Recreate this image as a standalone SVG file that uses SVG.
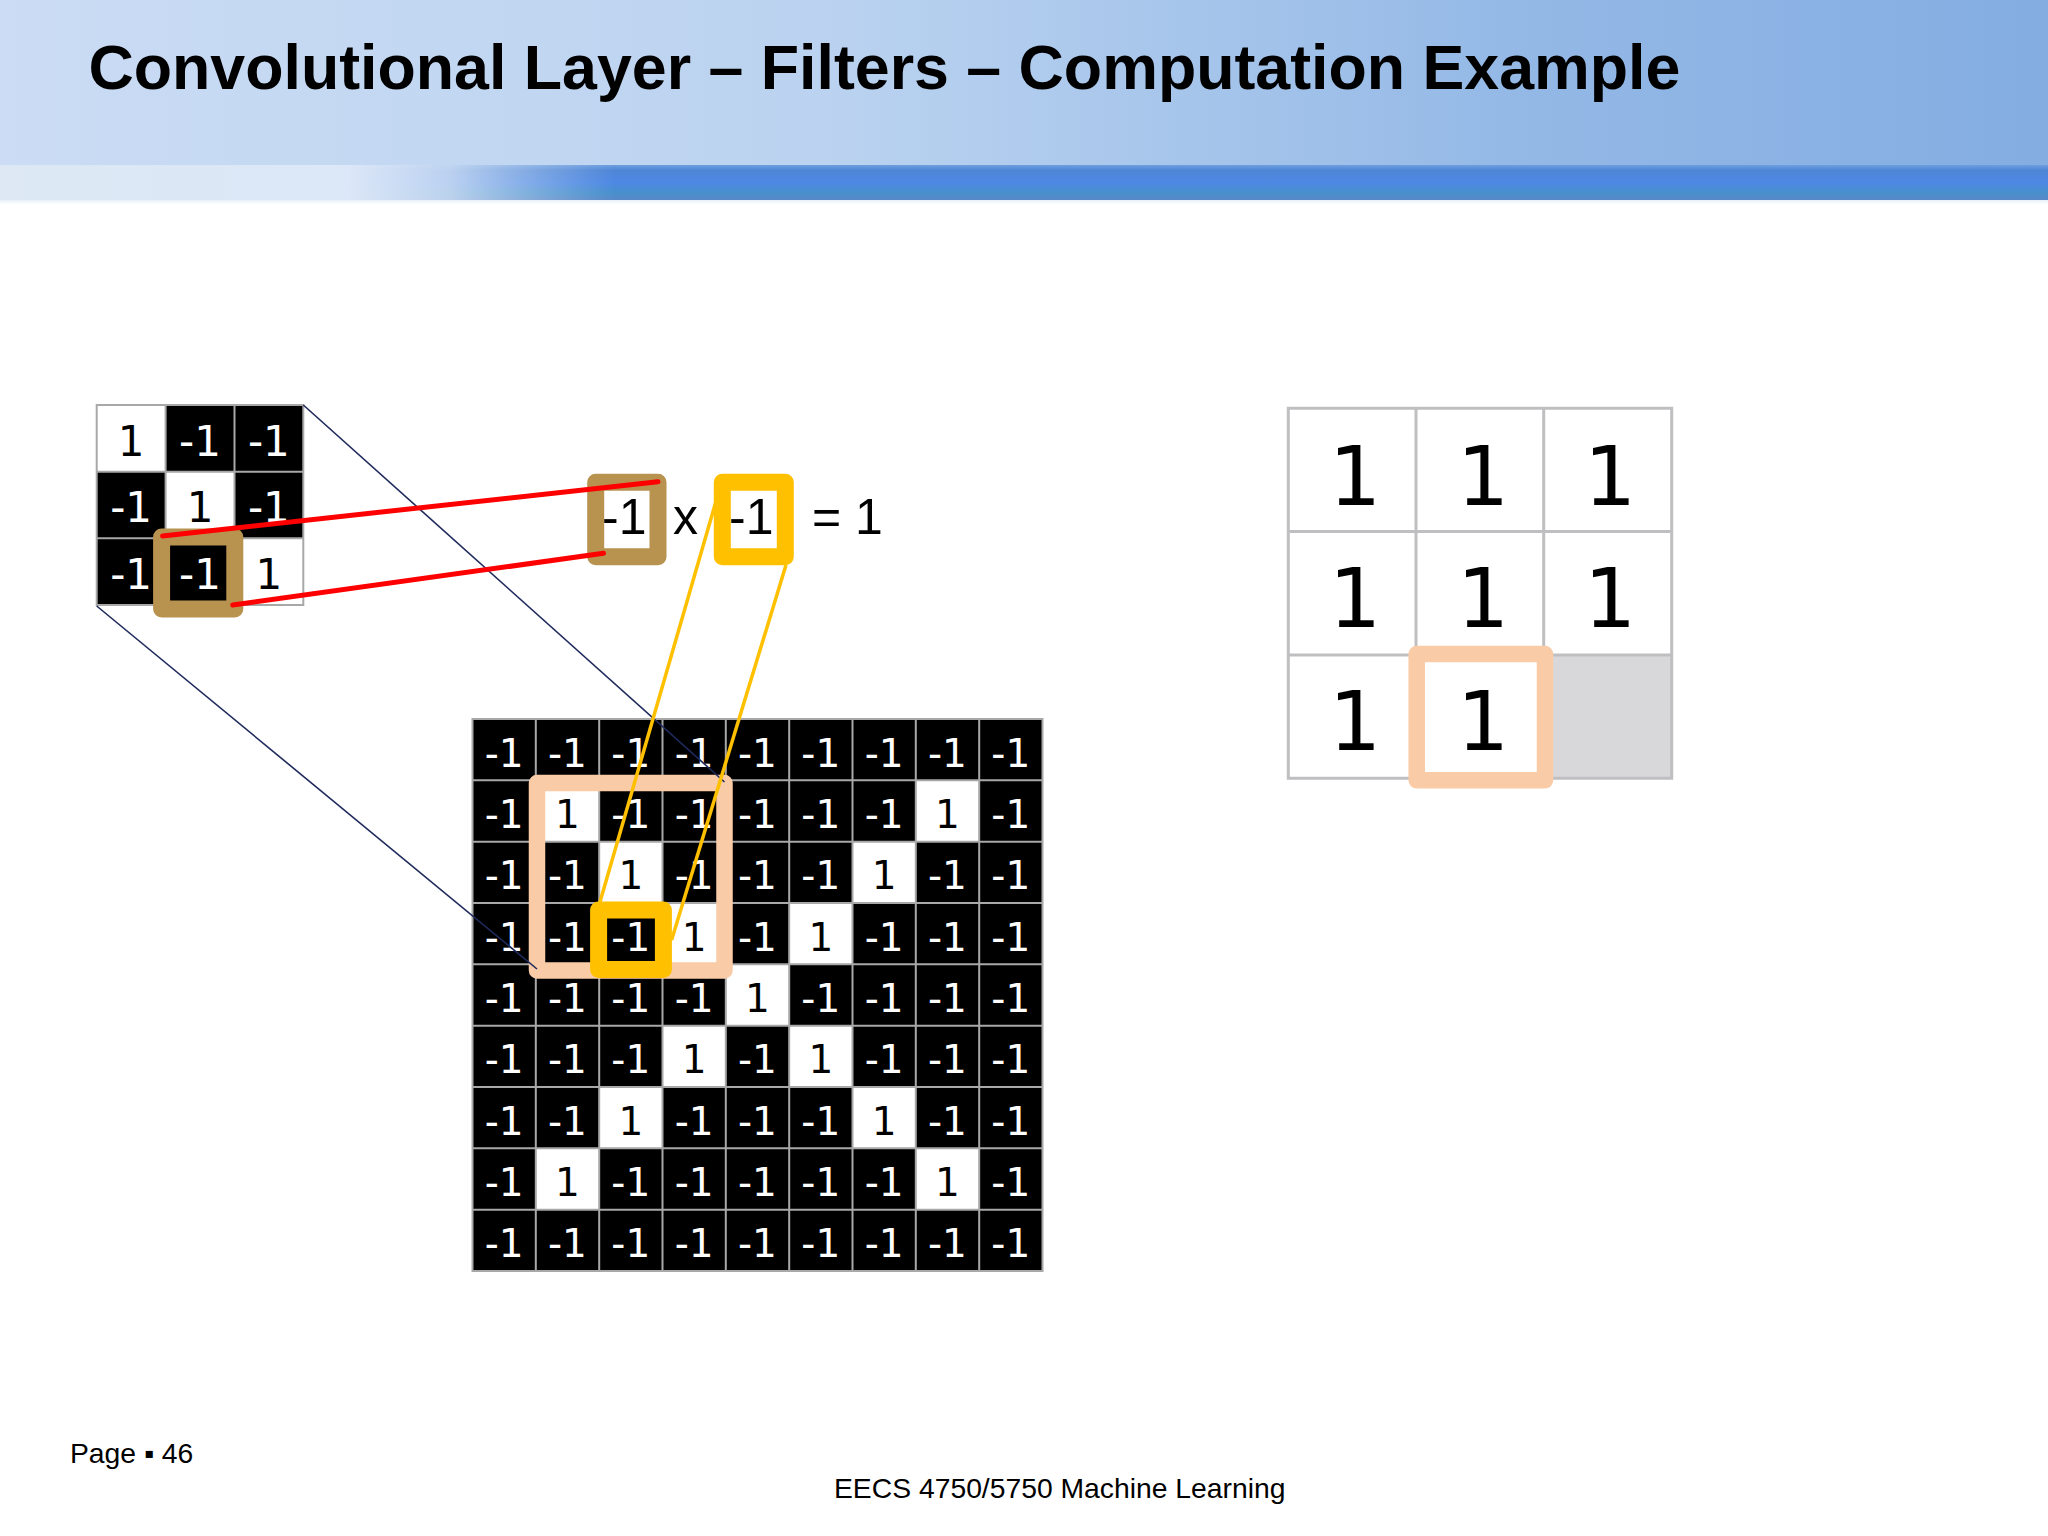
<svg xmlns="http://www.w3.org/2000/svg" width="2048" height="1536" viewBox="0 0 2048 1536">
<defs>
<linearGradient id="hdr" x1="0" y1="0" x2="1" y2="0">
<stop offset="0" stop-color="#CBDCF4"/>
<stop offset="0.4" stop-color="#BBD3F0"/>
<stop offset="0.75" stop-color="#93B8E6"/>
<stop offset="1" stop-color="#84ADE2"/>
</linearGradient>
<linearGradient id="band" x1="0" y1="0" x2="0" y2="1">
<stop offset="0" stop-color="#6E9FDF"/>
<stop offset="0.15" stop-color="#4F86D6"/>
<stop offset="0.5" stop-color="#4E88E4"/>
<stop offset="0.8" stop-color="#4790CC"/>
<stop offset="1" stop-color="#5A88C8"/>
</linearGradient>
<linearGradient id="bandfade" x1="0" y1="0" x2="1" y2="0">
<stop offset="0" stop-color="#DDE8F4" stop-opacity="1"/>
<stop offset="0.17" stop-color="#DCE7F8" stop-opacity="1"/>
<stop offset="0.22" stop-color="#D6E3F5" stop-opacity="0.8"/>
<stop offset="0.3" stop-color="#C0D6F0" stop-opacity="0"/>
<stop offset="1" stop-color="#C0D6F0" stop-opacity="0"/>
</linearGradient>
<linearGradient id="under" x1="0" y1="0" x2="0" y2="1">
<stop offset="0" stop-color="#E6EEF8" stop-opacity="1"/>
<stop offset="1" stop-color="#FFFFFF" stop-opacity="0"/>
</linearGradient>
</defs>
<style>
.title{font-family:"Liberation Sans",Arial,sans-serif;font-weight:bold;font-size:62.7px;fill:#000}
.foot{font-family:"Liberation Sans",Arial,sans-serif;font-size:28.3px;fill:#000}
.eq{font-family:"Liberation Sans",Arial,sans-serif;font-size:50px;fill:#000}
.g{font-family:"DejaVu Sans",sans-serif;font-size:39px;text-anchor:middle}
.f{font-family:"DejaVu Sans",sans-serif;font-size:42px;text-anchor:middle}
.o{font-family:"DejaVu Sans",sans-serif;font-size:82px;text-anchor:middle;fill:#000}
.w{fill:#FFFFFF}
.b{fill:#000000}
.gl{stroke:#A8A8A8;stroke-width:2;fill:none}
.ol{stroke:#BFBFC1;stroke-width:3;fill:none}
.hl{fill:none;stroke-linejoin:round}
.peach{stroke:#F9CBA7;stroke-width:16.5}
.gold{stroke:#FFC000;stroke-width:17}
.brown{stroke:#B8924F;stroke-width:17}
.red{stroke:#F00;stroke-width:5;stroke-linecap:round}
.yel{stroke:#FFC000;stroke-width:3.5}
.navy{stroke:#1F2A5C;stroke-width:1.6}
</style>
<rect x="0" y="0" width="2048" height="1536" fill="#FFFFFF"/>
<g id="header">
<rect x="0" y="0" width="2048" height="166" fill="url(#hdr)"/>
<rect x="0" y="165" width="2048" height="35" fill="url(#band)"/>
<rect x="0" y="165" width="2048" height="35" fill="url(#bandfade)"/>
<rect x="0" y="200" width="2048" height="6" fill="url(#under)"/>
<text class="title" x="88.5" y="89">Convolutional Layer – Filters – Computation Example</text>
</g>

<g id="filter">
<rect x="96.7" y="405" width="206.6" height="200" fill="#000"/>
<rect class="w" x="96.7" y="405" width="68.9" height="66.7"/>
<rect class="w" x="165.6" y="471.7" width="68.9" height="66.6"/>
<rect class="w" x="234.5" y="538.3" width="68.8" height="66.7"/>
<path class="gl" d="M96.7 405H303.3V605H96.7Z M165.6 405V605 M234.5 405V605 M96.7 471.7H303.3 M96.7 538.3H303.3"/>
<text class="f b" x="131.1" y="455.7">1</text>
<text class="f w" x="200" y="455.7">-1</text>
<text class="f w" x="268.9" y="455.7">-1</text>
<text class="f w" x="131.1" y="522.4">-1</text>
<text class="f b" x="200" y="522.4">1</text>
<text class="f w" x="268.9" y="522.4">-1</text>
<text class="f w" x="131.1" y="589">-1</text>
<text class="f w" x="200" y="589">-1</text>
<text class="f b" x="268.9" y="589">1</text>
<rect class="hl brown" x="161.6" y="537" width="73.2" height="72"/>
</g>

<g id="image">
<rect x="472.5" y="719" width="570" height="552" fill="#000"/>
<rect class="w" x="535.8" y="780.3" width="63.4" height="61.4"/>
<rect class="w" x="915.8" y="780.3" width="63.4" height="61.4"/>
<rect class="w" x="599.2" y="841.7" width="63.3" height="61.3"/>
<rect class="w" x="852.5" y="841.7" width="63.3" height="61.3"/>
<rect class="w" x="662.5" y="903" width="63.3" height="61.3"/>
<rect class="w" x="789.2" y="903" width="63.3" height="61.3"/>
<rect class="w" x="725.8" y="964.3" width="63.4" height="61.4"/>
<rect class="w" x="662.5" y="1025.7" width="63.3" height="61.3"/>
<rect class="w" x="789.2" y="1025.7" width="63.3" height="61.3"/>
<rect class="w" x="599.2" y="1087" width="63.3" height="61.3"/>
<rect class="w" x="852.5" y="1087" width="63.3" height="61.3"/>
<rect class="w" x="535.8" y="1148.3" width="63.4" height="61.4"/>
<rect class="w" x="915.8" y="1148.3" width="63.4" height="61.4"/>
<path class="gl" d="M472.5 719H1042.5V1271H472.5Z M535.8 719V1271 M599.2 719V1271 M662.5 719V1271 M725.8 719V1271 M789.2 719V1271 M852.5 719V1271 M915.8 719V1271 M979.2 719V1271 M472.5 780.3H1042.5 M472.5 841.7H1042.5 M472.5 903H1042.5 M472.5 964.3H1042.5 M472.5 1025.7H1042.5 M472.5 1087H1042.5 M472.5 1148.3H1042.5 M472.5 1209.7H1042.5"/>
<!-- row 0 -->
<text class="g w" x="504.2" y="766.7">-1</text><text class="g w" x="567.5" y="766.7">-1</text><text class="g w" x="630.8" y="766.7">-1</text><text class="g w" x="694.2" y="766.7">-1</text><text class="g w" x="757.5" y="766.7">-1</text><text class="g w" x="820.8" y="766.7">-1</text><text class="g w" x="884.2" y="766.7">-1</text><text class="g w" x="947.5" y="766.7">-1</text><text class="g w" x="1010.8" y="766.7">-1</text>
<!-- row 1 -->
<text class="g w" x="504.2" y="828">-1</text><text class="g b" x="567.5" y="828">1</text><text class="g w" x="630.8" y="828">-1</text><text class="g w" x="694.2" y="828">-1</text><text class="g w" x="757.5" y="828">-1</text><text class="g w" x="820.8" y="828">-1</text><text class="g w" x="884.2" y="828">-1</text><text class="g b" x="947.5" y="828">1</text><text class="g w" x="1010.8" y="828">-1</text>
<!-- row 2 -->
<text class="g w" x="504.2" y="889.4">-1</text><text class="g w" x="567.5" y="889.4">-1</text><text class="g b" x="630.8" y="889.4">1</text><text class="g w" x="694.2" y="889.4">-1</text><text class="g w" x="757.5" y="889.4">-1</text><text class="g w" x="820.8" y="889.4">-1</text><text class="g b" x="884.2" y="889.4">1</text><text class="g w" x="947.5" y="889.4">-1</text><text class="g w" x="1010.8" y="889.4">-1</text>
<!-- row 3 -->
<text class="g w" x="504.2" y="950.7">-1</text><text class="g w" x="567.5" y="950.7">-1</text><text class="g w" x="630.8" y="950.7">-1</text><text class="g b" x="694.2" y="950.7">1</text><text class="g w" x="757.5" y="950.7">-1</text><text class="g b" x="820.8" y="950.7">1</text><text class="g w" x="884.2" y="950.7">-1</text><text class="g w" x="947.5" y="950.7">-1</text><text class="g w" x="1010.8" y="950.7">-1</text>
<!-- row 4 -->
<text class="g w" x="504.2" y="1012">-1</text><text class="g w" x="567.5" y="1012">-1</text><text class="g w" x="630.8" y="1012">-1</text><text class="g w" x="694.2" y="1012">-1</text><text class="g b" x="757.5" y="1012">1</text><text class="g w" x="820.8" y="1012">-1</text><text class="g w" x="884.2" y="1012">-1</text><text class="g w" x="947.5" y="1012">-1</text><text class="g w" x="1010.8" y="1012">-1</text>
<!-- row 5 -->
<text class="g w" x="504.2" y="1073.4">-1</text><text class="g w" x="567.5" y="1073.4">-1</text><text class="g w" x="630.8" y="1073.4">-1</text><text class="g b" x="694.2" y="1073.4">1</text><text class="g w" x="757.5" y="1073.4">-1</text><text class="g b" x="820.8" y="1073.4">1</text><text class="g w" x="884.2" y="1073.4">-1</text><text class="g w" x="947.5" y="1073.4">-1</text><text class="g w" x="1010.8" y="1073.4">-1</text>
<!-- row 6 -->
<text class="g w" x="504.2" y="1134.7">-1</text><text class="g w" x="567.5" y="1134.7">-1</text><text class="g b" x="630.8" y="1134.7">1</text><text class="g w" x="694.2" y="1134.7">-1</text><text class="g w" x="757.5" y="1134.7">-1</text><text class="g w" x="820.8" y="1134.7">-1</text><text class="g b" x="884.2" y="1134.7">1</text><text class="g w" x="947.5" y="1134.7">-1</text><text class="g w" x="1010.8" y="1134.7">-1</text>
<!-- row 7 -->
<text class="g w" x="504.2" y="1196">-1</text><text class="g b" x="567.5" y="1196">1</text><text class="g w" x="630.8" y="1196">-1</text><text class="g w" x="694.2" y="1196">-1</text><text class="g w" x="757.5" y="1196">-1</text><text class="g w" x="820.8" y="1196">-1</text><text class="g w" x="884.2" y="1196">-1</text><text class="g b" x="947.5" y="1196">1</text><text class="g w" x="1010.8" y="1196">-1</text>
<!-- row 8 -->
<text class="g w" x="504.2" y="1257.4">-1</text><text class="g w" x="567.5" y="1257.4">-1</text><text class="g w" x="630.8" y="1257.4">-1</text><text class="g w" x="694.2" y="1257.4">-1</text><text class="g w" x="757.5" y="1257.4">-1</text><text class="g w" x="820.8" y="1257.4">-1</text><text class="g w" x="884.2" y="1257.4">-1</text><text class="g w" x="947.5" y="1257.4">-1</text><text class="g w" x="1010.8" y="1257.4">-1</text>
<rect class="hl peach" x="537" y="783" width="187.5" height="187.5"/>
<rect class="hl gold" x="598.6" y="910" width="64.8" height="59.5"/>
</g>

<g id="equation">
<rect x="595.7" y="482.3" width="62.3" height="74.5" fill="#FFF" class="hl brown"/>
<rect x="722.3" y="482.3" width="63" height="74.5" fill="#FFF" class="hl gold"/>
<text class="eq" x="602" y="534">-1</text>
<text class="eq" x="673" y="534">x</text>
<text class="eq" x="729" y="534">-1</text>
<text class="eq" x="812" y="534">= 1</text>
</g>

<g id="output">
<rect x="1288.3" y="408.3" width="383.4" height="370" fill="#FFF"/>
<rect x="1543.7" y="655" width="128" height="123.3" fill="#D8D8DA"/>
<path class="ol" d="M1288.3 408.3H1671.7V778.3H1288.3Z M1416 408.3V778.3 M1543.7 408.3V778.3 M1288.3 531.6H1671.7 M1288.3 655H1671.7"/>
<text class="o" x="1355" y="505">1</text>
<text class="o" x="1483" y="505">1</text>
<text class="o" x="1610" y="505">1</text>
<text class="o" x="1355" y="627.3">1</text>
<text class="o" x="1483" y="627.3">1</text>
<text class="o" x="1610" y="627.3">1</text>
<text class="o" x="1355" y="750">1</text>
<text class="o" x="1483" y="750">1</text>
<rect class="hl peach" x="1416.7" y="654" width="128.3" height="126.3"/>
</g>

<g id="connectors">
<line class="navy" x1="303.3" y1="405" x2="724.5" y2="782"/>
<line class="navy" x1="96.7" y1="606" x2="537" y2="969"/>
<line class="red" x1="162.6" y1="536" x2="658" y2="481.7"/>
<line class="red" x1="232.7" y1="605" x2="603.5" y2="553.3"/>
<line class="yel" x1="715.5" y1="503" x2="599.7" y2="903"/>
<line class="yel" x1="786" y1="565" x2="671.6" y2="940"/>
</g>

<g id="footer">
<text class="foot" x="70" y="1463">Page ▪ 46</text>
<text class="foot" x="834" y="1498">EECS 4750/5750 Machine Learning</text>
</g>
</svg>
